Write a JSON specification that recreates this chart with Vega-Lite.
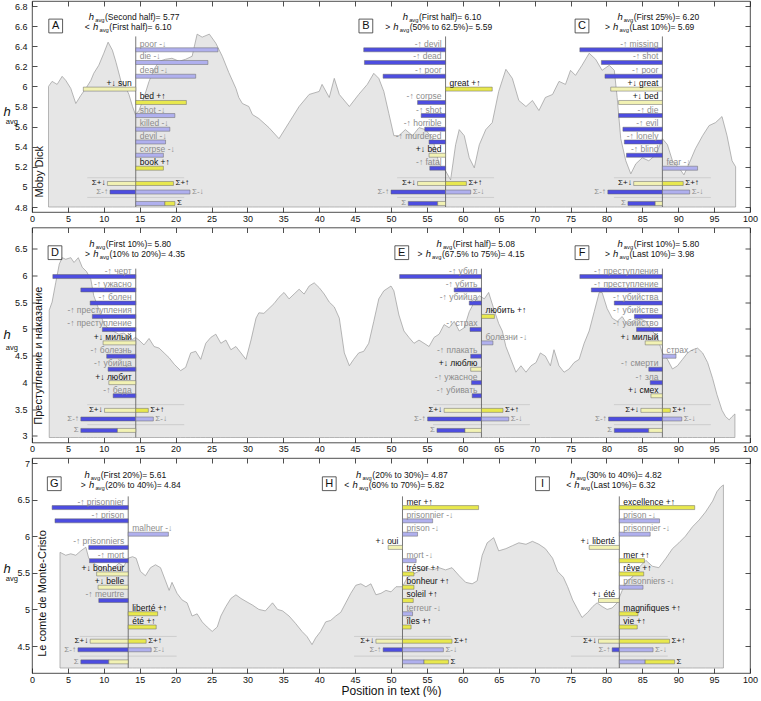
{
"$schema": "https://vega.github.io/schema/vega-lite/v6.json",
"background": "white",
"padding": {"left": 2, "top": 0, "right": 5, "bottom": 0},
"config": {
  "font": "Liberation Sans",
  "view": {"stroke": "#222", "strokeWidth": 0.8},
  "axis": {"domain": false, "grid": false, "labelOverlap": false, "labelSeparation": 0, "tickSize": -5, "tickColor": "#222", "tickWidth": 0.8, "labelFontSize": 9, "labelColor": "#111", "labelFont": "Liberation Sans", "titleFont": "Liberation Sans", "titleFontWeight": "normal", "titleColor": "#111"},
  "axisX": {"labelPadding": 7, "labelFlush": false},
  "axisY": {"labelPadding": 10}
},
"datasets": {
"ser": [
{"b":"MD","x":2.3,"y":6.0},{"b":"MD","x":2.8,"y":6.05},{"b":"MD","x":3.5,"y":6.02},{"b":"MD","x":4.2,"y":6.1},{"b":"MD","x":4.7,"y":6.06},{"b":"MD","x":5.4,"y":5.98},{"b":"MD","x":6.1,"y":5.83},{"b":"MD","x":6.8,"y":5.91},{"b":"MD","x":7.5,"y":5.98},{"b":"MD","x":8.2,"y":6.06},{"b":"MD","x":8.6,"y":6.13},{"b":"MD","x":9.3,"y":6.21},{"b":"MD","x":10.0,"y":6.33},{"b":"MD","x":10.6,"y":6.44},{"b":"MD","x":11.2,"y":6.36},{"b":"MD","x":11.7,"y":6.24},{"b":"MD","x":12.4,"y":6.05},{"b":"MD","x":13.0,"y":6.0},{"b":"MD","x":13.5,"y":5.92},{"b":"MD","x":14.0,"y":5.8},{"b":"MD","x":14.4,"y":5.72},{"b":"MD","x":14.9,"y":5.76},{"b":"MD","x":15.6,"y":5.89},{"b":"MD","x":16.3,"y":6.05},{"b":"MD","x":17.0,"y":6.17},{"b":"MD","x":17.7,"y":6.25},{"b":"MD","x":18.6,"y":6.27},{"b":"MD","x":19.5,"y":6.28},{"b":"MD","x":20.5,"y":6.25},{"b":"MD","x":21.4,"y":6.27},{"b":"MD","x":22.3,"y":6.3},{"b":"MD","x":23.0,"y":6.52},{"b":"MD","x":23.7,"y":6.49},{"b":"MD","x":24.7,"y":6.52},{"b":"MD","x":25.6,"y":6.43},{"b":"MD","x":26.5,"y":6.3},{"b":"MD","x":27.4,"y":6.14},{"b":"MD","x":28.4,"y":5.98},{"b":"MD","x":28.8,"y":5.89},{"b":"MD","x":29.3,"y":5.83},{"b":"MD","x":30.2,"y":5.8},{"b":"MD","x":30.7,"y":5.72},{"b":"MD","x":31.6,"y":5.68},{"b":"MD","x":33.0,"y":5.59},{"b":"MD","x":34.4,"y":5.48},{"b":"MD","x":35.8,"y":5.64},{"b":"MD","x":37.2,"y":5.8},{"b":"MD","x":38.6,"y":5.92},{"b":"MD","x":40.0,"y":5.95},{"b":"MD","x":40.4,"y":6.02},{"b":"MD","x":41.4,"y":5.89},{"b":"MD","x":42.1,"y":6.08},{"b":"MD","x":42.8,"y":5.92},{"b":"MD","x":44.2,"y":5.8},{"b":"MD","x":45.5,"y":5.92},{"b":"MD","x":46.7,"y":6.02},{"b":"MD","x":47.6,"y":6.13},{"b":"MD","x":48.3,"y":6.08},{"b":"MD","x":49.0,"y":5.95},{"b":"MD","x":49.7,"y":5.73},{"b":"MD","x":50.4,"y":5.51},{"b":"MD","x":51.1,"y":5.51},{"b":"MD","x":52.0,"y":5.57},{"b":"MD","x":53.0,"y":5.51},{"b":"MD","x":53.9,"y":5.59},{"b":"MD","x":54.8,"y":5.57},{"b":"MD","x":55.8,"y":5.48},{"b":"MD","x":56.7,"y":5.23},{"b":"MD","x":57.6,"y":5.16},{"b":"MD","x":58.3,"y":5.07},{"b":"MD","x":59.0,"y":5.42},{"b":"MD","x":59.5,"y":5.57},{"b":"MD","x":60.2,"y":5.51},{"b":"MD","x":60.9,"y":5.29},{"b":"MD","x":61.6,"y":5.19},{"b":"MD","x":62.3,"y":5.42},{"b":"MD","x":63.2,"y":5.57},{"b":"MD","x":64.1,"y":5.64},{"b":"MD","x":65.0,"y":5.95},{"b":"MD","x":66.0,"y":6.17},{"b":"MD","x":66.9,"y":6.08},{"b":"MD","x":67.8,"y":5.86},{"b":"MD","x":68.8,"y":5.8},{"b":"MD","x":69.7,"y":5.86},{"b":"MD","x":70.6,"y":5.76},{"b":"MD","x":71.5,"y":5.89},{"b":"MD","x":72.5,"y":5.92},{"b":"MD","x":73.4,"y":6.05},{"b":"MD","x":74.3,"y":6.02},{"b":"MD","x":75.0,"y":6.16},{"b":"MD","x":75.7,"y":6.11},{"b":"MD","x":76.6,"y":6.21},{"b":"MD","x":77.6,"y":6.33},{"b":"MD","x":78.5,"y":6.27},{"b":"MD","x":79.4,"y":6.16},{"b":"MD","x":80.4,"y":6.21},{"b":"MD","x":81.1,"y":6.16},{"b":"MD","x":81.5,"y":5.89},{"b":"MD","x":82.0,"y":5.48},{"b":"MD","x":82.7,"y":5.26},{"b":"MD","x":83.4,"y":5.13},{"b":"MD","x":84.1,"y":5.23},{"b":"MD","x":85.0,"y":5.29},{"b":"MD","x":85.9,"y":5.26},{"b":"MD","x":86.9,"y":5.32},{"b":"MD","x":87.8,"y":5.48},{"b":"MD","x":88.5,"y":5.42},{"b":"MD","x":89.2,"y":5.26},{"b":"MD","x":90.1,"y":5.19},{"b":"MD","x":90.8,"y":5.12},{"b":"MD","x":91.5,"y":5.23},{"b":"MD","x":92.4,"y":5.38},{"b":"MD","x":93.4,"y":5.51},{"b":"MD","x":94.3,"y":5.61},{"b":"MD","x":95.2,"y":5.64},{"b":"MD","x":96.1,"y":5.7},{"b":"MD","x":96.8,"y":5.51},{"b":"MD","x":97.5,"y":5.26},{"b":"MD","x":98.0,"y":5.2},
{"b":"CP","x":2.4,"y":5.35},{"b":"CP","x":2.8,"y":5.5},{"b":"CP","x":3.3,"y":5.86},{"b":"CP","x":3.8,"y":6.21},{"b":"CP","x":4.2,"y":6.33},{"b":"CP","x":4.7,"y":6.3},{"b":"CP","x":5.4,"y":6.33},{"b":"CP","x":5.85,"y":6.24},{"b":"CP","x":6.45,"y":6.33},{"b":"CP","x":7.0,"y":6.15},{"b":"CP","x":7.6,"y":6.07},{"b":"CP","x":8.2,"y":5.92},{"b":"CP","x":8.6,"y":5.62},{"b":"CP","x":9.1,"y":5.44},{"b":"CP","x":9.6,"y":5.25},{"b":"CP","x":10.0,"y":5.1},{"b":"CP","x":10.7,"y":5.0},{"b":"CP","x":11.4,"y":4.95},{"b":"CP","x":12.1,"y":4.9},{"b":"CP","x":12.8,"y":4.92},{"b":"CP","x":13.5,"y":4.85},{"b":"CP","x":14.0,"y":4.8},{"b":"CP","x":14.4,"y":4.84},{"b":"CP","x":14.9,"y":4.79},{"b":"CP","x":15.6,"y":4.7},{"b":"CP","x":16.3,"y":4.82},{"b":"CP","x":17.0,"y":4.67},{"b":"CP","x":17.7,"y":4.64},{"b":"CP","x":18.4,"y":4.55},{"b":"CP","x":19.1,"y":4.46},{"b":"CP","x":19.8,"y":4.34},{"b":"CP","x":20.7,"y":4.22},{"b":"CP","x":21.4,"y":4.28},{"b":"CP","x":22.1,"y":4.55},{"b":"CP","x":22.8,"y":4.58},{"b":"CP","x":23.5,"y":4.43},{"b":"CP","x":24.2,"y":4.73},{"b":"CP","x":24.9,"y":4.84},{"b":"CP","x":25.6,"y":4.9},{"b":"CP","x":26.3,"y":4.73},{"b":"CP","x":27.0,"y":4.79},{"b":"CP","x":27.7,"y":4.61},{"b":"CP","x":28.4,"y":4.67},{"b":"CP","x":29.1,"y":4.55},{"b":"CP","x":29.8,"y":4.43},{"b":"CP","x":30.5,"y":4.79},{"b":"CP","x":31.2,"y":5.2},{"b":"CP","x":31.6,"y":5.3},{"b":"CP","x":32.3,"y":5.29},{"b":"CP","x":33.0,"y":5.38},{"b":"CP","x":33.7,"y":5.47},{"b":"CP","x":34.4,"y":5.59},{"b":"CP","x":35.1,"y":5.68},{"b":"CP","x":35.8,"y":5.56},{"b":"CP","x":36.5,"y":5.65},{"b":"CP","x":37.2,"y":5.74},{"b":"CP","x":37.9,"y":5.65},{"b":"CP","x":38.6,"y":5.8},{"b":"CP","x":39.3,"y":5.86},{"b":"CP","x":40.0,"y":5.77},{"b":"CP","x":40.7,"y":5.65},{"b":"CP","x":41.4,"y":5.5},{"b":"CP","x":42.1,"y":5.41},{"b":"CP","x":42.8,"y":5.2},{"b":"CP","x":43.5,"y":4.55},{"b":"CP","x":44.2,"y":4.31},{"b":"CP","x":44.8,"y":4.43},{"b":"CP","x":45.5,"y":4.55},{"b":"CP","x":46.2,"y":4.58},{"b":"CP","x":46.9,"y":4.73},{"b":"CP","x":47.6,"y":5.14},{"b":"CP","x":48.3,"y":5.56},{"b":"CP","x":49.0,"y":5.71},{"b":"CP","x":50.0,"y":5.8},{"b":"CP","x":50.4,"y":5.71},{"b":"CP","x":51.1,"y":5.26},{"b":"CP","x":51.8,"y":4.96},{"b":"CP","x":52.5,"y":4.84},{"b":"CP","x":53.2,"y":4.73},{"b":"CP","x":53.9,"y":4.79},{"b":"CP","x":54.6,"y":4.73},{"b":"CP","x":55.3,"y":4.67},{"b":"CP","x":56.0,"y":4.84},{"b":"CP","x":56.7,"y":4.9},{"b":"CP","x":57.4,"y":5.08},{"b":"CP","x":58.1,"y":5.02},{"b":"CP","x":58.8,"y":5.14},{"b":"CP","x":59.5,"y":4.96},{"b":"CP","x":60.2,"y":5.02},{"b":"CP","x":60.9,"y":5.32},{"b":"CP","x":61.6,"y":5.5},{"b":"CP","x":62.3,"y":5.62},{"b":"CP","x":63.0,"y":5.56},{"b":"CP","x":63.6,"y":5.68},{"b":"CP","x":64.3,"y":5.38},{"b":"CP","x":65.0,"y":5.1},{"b":"CP","x":65.5,"y":4.96},{"b":"CP","x":66.0,"y":4.67},{"b":"CP","x":66.7,"y":4.43},{"b":"CP","x":67.4,"y":4.19},{"b":"CP","x":68.1,"y":4.31},{"b":"CP","x":68.8,"y":4.19},{"b":"CP","x":69.5,"y":4.31},{"b":"CP","x":70.2,"y":4.37},{"b":"CP","x":70.8,"y":4.55},{"b":"CP","x":71.5,"y":4.49},{"b":"CP","x":72.2,"y":4.31},{"b":"CP","x":72.7,"y":4.61},{"b":"CP","x":73.4,"y":4.31},{"b":"CP","x":74.1,"y":4.19},{"b":"CP","x":74.8,"y":4.25},{"b":"CP","x":75.5,"y":4.37},{"b":"CP","x":76.2,"y":4.43},{"b":"CP","x":76.9,"y":4.73},{"b":"CP","x":77.6,"y":4.96},{"b":"CP","x":78.3,"y":5.32},{"b":"CP","x":79.0,"y":5.68},{"b":"CP","x":79.4,"y":5.68},{"b":"CP","x":80.1,"y":5.38},{"b":"CP","x":80.8,"y":5.2},{"b":"CP","x":81.5,"y":5.14},{"b":"CP","x":82.2,"y":5.23},{"b":"CP","x":82.9,"y":5.08},{"b":"CP","x":83.6,"y":5.14},{"b":"CP","x":84.5,"y":5.2},{"b":"CP","x":85.5,"y":5.14},{"b":"CP","x":86.4,"y":4.96},{"b":"CP","x":87.1,"y":4.84},{"b":"CP","x":87.8,"y":4.55},{"b":"CP","x":88.5,"y":4.43},{"b":"CP","x":89.2,"y":4.25},{"b":"CP","x":89.9,"y":4.31},{"b":"CP","x":90.6,"y":4.43},{"b":"CP","x":91.3,"y":4.55},{"b":"CP","x":92.0,"y":4.61},{"b":"CP","x":92.7,"y":4.64},{"b":"CP","x":93.4,"y":4.55},{"b":"CP","x":94.1,"y":4.37},{"b":"CP","x":94.8,"y":4.07},{"b":"CP","x":95.4,"y":3.77},{"b":"CP","x":96.1,"y":3.48},{"b":"CP","x":96.6,"y":3.36},{"b":"CP","x":97.1,"y":3.3},{"b":"CP","x":97.5,"y":3.36},{"b":"CP","x":97.9,"y":3.41},
{"b":"MC","x":3.9,"y":5.78},{"b":"MC","x":4.7,"y":5.74},{"b":"MC","x":5.4,"y":5.76},{"b":"MC","x":6.1,"y":5.74},{"b":"MC","x":6.8,"y":5.8},{"b":"MC","x":7.5,"y":5.85},{"b":"MC","x":7.9,"y":5.7},{"b":"MC","x":8.6,"y":5.63},{"b":"MC","x":9.3,"y":5.59},{"b":"MC","x":10.0,"y":5.57},{"b":"MC","x":10.7,"y":5.52},{"b":"MC","x":11.4,"y":5.57},{"b":"MC","x":12.1,"y":5.63},{"b":"MC","x":12.8,"y":5.59},{"b":"MC","x":13.4,"y":5.7},{"b":"MC","x":14.0,"y":5.72},{"b":"MC","x":14.5,"y":5.7},{"b":"MC","x":15.1,"y":5.52},{"b":"MC","x":15.8,"y":5.46},{"b":"MC","x":16.5,"y":5.57},{"b":"MC","x":17.2,"y":5.61},{"b":"MC","x":17.9,"y":5.57},{"b":"MC","x":18.6,"y":5.39},{"b":"MC","x":19.1,"y":5.26},{"b":"MC","x":19.5,"y":5.37},{"b":"MC","x":20.2,"y":5.22},{"b":"MC","x":20.9,"y":5.13},{"b":"MC","x":21.6,"y":5.09},{"b":"MC","x":22.3,"y":4.91},{"b":"MC","x":23.0,"y":4.94},{"b":"MC","x":23.7,"y":4.83},{"b":"MC","x":24.4,"y":4.76},{"b":"MC","x":25.1,"y":4.7},{"b":"MC","x":25.8,"y":4.76},{"b":"MC","x":26.3,"y":4.91},{"b":"MC","x":27.0,"y":5.04},{"b":"MC","x":27.7,"y":5.15},{"b":"MC","x":28.4,"y":5.2},{"b":"MC","x":29.1,"y":5.15},{"b":"MC","x":29.8,"y":5.11},{"b":"MC","x":30.7,"y":5.06},{"b":"MC","x":31.6,"y":5.0},{"b":"MC","x":32.5,"y":4.98},{"b":"MC","x":33.5,"y":5.09},{"b":"MC","x":34.2,"y":5.0},{"b":"MC","x":34.9,"y":4.98},{"b":"MC","x":35.8,"y":4.91},{"b":"MC","x":36.7,"y":4.81},{"b":"MC","x":37.6,"y":4.7},{"b":"MC","x":38.3,"y":4.63},{"b":"MC","x":39.0,"y":4.52},{"b":"MC","x":39.5,"y":4.61},{"b":"MC","x":40.2,"y":4.7},{"b":"MC","x":40.9,"y":4.83},{"b":"MC","x":41.6,"y":4.85},{"b":"MC","x":42.3,"y":4.91},{"b":"MC","x":43.0,"y":4.96},{"b":"MC","x":43.7,"y":5.09},{"b":"MC","x":44.4,"y":5.22},{"b":"MC","x":45.1,"y":5.33},{"b":"MC","x":45.8,"y":5.35},{"b":"MC","x":46.5,"y":5.31},{"b":"MC","x":47.2,"y":5.35},{"b":"MC","x":47.9,"y":5.2},{"b":"MC","x":48.6,"y":5.22},{"b":"MC","x":49.3,"y":5.26},{"b":"MC","x":50.0,"y":5.24},{"b":"MC","x":50.7,"y":5.31},{"b":"MC","x":51.6,"y":5.31},{"b":"MC","x":52.3,"y":5.44},{"b":"MC","x":53.0,"y":5.48},{"b":"MC","x":53.9,"y":5.52},{"b":"MC","x":54.8,"y":5.57},{"b":"MC","x":55.8,"y":5.54},{"b":"MC","x":56.7,"y":5.57},{"b":"MC","x":57.6,"y":5.54},{"b":"MC","x":58.5,"y":5.57},{"b":"MC","x":59.5,"y":5.46},{"b":"MC","x":60.4,"y":5.37},{"b":"MC","x":61.3,"y":5.35},{"b":"MC","x":62.0,"y":5.39},{"b":"MC","x":62.7,"y":5.74},{"b":"MC","x":63.4,"y":5.91},{"b":"MC","x":64.3,"y":5.98},{"b":"MC","x":65.0,"y":5.8},{"b":"MC","x":66.0,"y":5.83},{"b":"MC","x":66.9,"y":5.87},{"b":"MC","x":67.8,"y":5.91},{"b":"MC","x":68.8,"y":5.89},{"b":"MC","x":69.7,"y":5.93},{"b":"MC","x":70.6,"y":5.89},{"b":"MC","x":71.5,"y":5.83},{"b":"MC","x":72.5,"y":5.7},{"b":"MC","x":73.2,"y":5.52},{"b":"MC","x":74.0,"y":5.44},{"b":"MC","x":74.6,"y":5.31},{"b":"MC","x":75.3,"y":5.13},{"b":"MC","x":76.0,"y":5.0},{"b":"MC","x":76.6,"y":4.89},{"b":"MC","x":77.4,"y":4.96},{"b":"MC","x":78.1,"y":5.04},{"b":"MC","x":78.7,"y":5.09},{"b":"MC","x":79.4,"y":5.04},{"b":"MC","x":80.1,"y":5.0},{"b":"MC","x":80.8,"y":5.02},{"b":"MC","x":81.5,"y":5.09},{"b":"MC","x":82.2,"y":5.26},{"b":"MC","x":82.9,"y":5.39},{"b":"MC","x":83.6,"y":5.44},{"b":"MC","x":84.5,"y":5.57},{"b":"MC","x":85.5,"y":5.67},{"b":"MC","x":86.4,"y":5.59},{"b":"MC","x":87.3,"y":5.57},{"b":"MC","x":88.3,"y":5.7},{"b":"MC","x":89.2,"y":5.83},{"b":"MC","x":90.1,"y":5.91},{"b":"MC","x":91.0,"y":6.0},{"b":"MC","x":92.0,"y":6.13},{"b":"MC","x":92.9,"y":6.22},{"b":"MC","x":93.8,"y":6.33},{"b":"MC","x":94.8,"y":6.48},{"b":"MC","x":95.4,"y":6.61},{"b":"MC","x":95.9,"y":6.67},{"b":"MC","x":96.3,"y":6.7}
],
"bar": [
{"b":"MD","k":"w","c":"nd","x":14.45,"x2":25.9,"y":6.364,"t":"poor -↓"},
{"b":"MD","k":"w","c":"nd","x":14.45,"x2":24.5,"y":6.238,"t":"die -↓"},
{"b":"MD","k":"w","c":"nd","x":14.45,"x2":22.8,"y":6.101,"t":"dead -↓"},
{"b":"MD","k":"w","c":"pd","x":7.15,"x2":14.45,"y":5.973,"t":"+↓ sun"},
{"b":"MD","k":"w","c":"pu","x":14.45,"x2":21.5,"y":5.84,"t":"bed +↑"},
{"b":"MD","k":"w","c":"nd","x":14.45,"x2":19.9,"y":5.71,"t":"shot -↓"},
{"b":"MD","k":"w","c":"nd","x":14.45,"x2":19.2,"y":5.574,"t":"killed -↓"},
{"b":"MD","k":"w","c":"nd","x":14.45,"x2":18.6,"y":5.447,"t":"devil -↓"},
{"b":"MD","k":"w","c":"nd","x":14.45,"x2":18.3,"y":5.315,"t":"corpse -↓"},
{"b":"MD","k":"w","c":"pu","x":14.45,"x2":18.3,"y":5.186,"t":"book +↑"},
{"b":"MD","k":"s","c":"pd","x":10.5,"x2":14.45,"y":5.034,"t":"Σ+↓"},
{"b":"MD","k":"s","c":"pu","x":14.45,"x2":19.7,"y":5.034,"t":"Σ+↑"},
{"b":"MD","k":"s","c":"nu","x":10.86,"x2":14.45,"y":4.949,"t":"Σ-↑"},
{"b":"MD","k":"s","c":"nd","x":14.45,"x2":22.0,"y":4.949,"t":"Σ-↓"},
{"b":"MD","k":"t","c":"nd","x":14.45,"x2":18.5,"y":4.835,"t":""},
{"b":"MD","k":"t","c":"pu","x":18.5,"x2":19.9,"y":4.835,"t":""},
{"b":"MD","k":"w","c":"nu","x":46.2,"x2":57.6,"y":6.364,"t":"-↑ devil"},
{"b":"MD","k":"w","c":"nu","x":46.3,"x2":57.6,"y":6.238,"t":"-↑ dead"},
{"b":"MD","k":"w","c":"nu","x":48.9,"x2":57.6,"y":6.101,"t":"-↑ poor"},
{"b":"MD","k":"w","c":"pu","x":57.6,"x2":64.1,"y":5.973,"t":"great +↑"},
{"b":"MD","k":"w","c":"nu","x":53.7,"x2":57.6,"y":5.84,"t":"-↑ corpse"},
{"b":"MD","k":"w","c":"nu","x":54.2,"x2":57.6,"y":5.71,"t":"-↑ shot"},
{"b":"MD","k":"w","c":"nu","x":54.7,"x2":57.6,"y":5.574,"t":"-↑ horrible"},
{"b":"MD","k":"w","c":"nu","x":55.3,"x2":57.6,"y":5.447,"t":"-↑ murdered"},
{"b":"MD","k":"w","c":"pd","x":55.3,"x2":57.6,"y":5.315,"t":"+↓ bed"},
{"b":"MD","k":"w","c":"nu","x":55.4,"x2":57.6,"y":5.186,"t":"-↑ fatal"},
{"b":"MD","k":"s","c":"pd","x":53.7,"x2":57.6,"y":5.034,"t":"Σ+↓"},
{"b":"MD","k":"s","c":"pu","x":57.6,"x2":60.5,"y":5.034,"t":"Σ+↑"},
{"b":"MD","k":"s","c":"nu","x":50.0,"x2":57.6,"y":4.949,"t":"Σ-↑"},
{"b":"MD","k":"s","c":"nd","x":57.6,"x2":61.1,"y":4.949,"t":"Σ-↓"},
{"b":"MD","k":"t","c":"nu","x":52.4,"x2":56.5,"y":4.835,"t":""},
{"b":"MD","k":"t","c":"pd","x":56.5,"x2":57.6,"y":4.835,"t":""},
{"b":"MD","k":"w","c":"nu","x":76.3,"x2":87.8,"y":6.364,"t":"-↑ missing"},
{"b":"MD","k":"w","c":"nu","x":79.3,"x2":87.8,"y":6.238,"t":"-↑ shot"},
{"b":"MD","k":"w","c":"nu","x":79.8,"x2":87.8,"y":6.101,"t":"-↑ poor"},
{"b":"MD","k":"w","c":"pd","x":80.6,"x2":87.8,"y":5.973,"t":"+↓ great"},
{"b":"MD","k":"w","c":"pd","x":81.7,"x2":87.8,"y":5.84,"t":"+↓ bed"},
{"b":"MD","k":"w","c":"nu","x":81.7,"x2":87.8,"y":5.71,"t":"-↑ die"},
{"b":"MD","k":"w","c":"nu","x":82.3,"x2":87.8,"y":5.574,"t":"-↑ evil"},
{"b":"MD","k":"w","c":"nu","x":82.5,"x2":87.8,"y":5.447,"t":"-↑ lonely"},
{"b":"MD","k":"w","c":"nu","x":82.8,"x2":87.8,"y":5.315,"t":"-↑ blind"},
{"b":"MD","k":"w","c":"nd","x":87.8,"x2":92.7,"y":5.186,"t":"fear -↓"},
{"b":"MD","k":"s","c":"pd","x":83.8,"x2":87.8,"y":5.034,"t":"Σ+↓"},
{"b":"MD","k":"s","c":"pu","x":87.8,"x2":90.7,"y":5.034,"t":"Σ+↑"},
{"b":"MD","k":"s","c":"nu","x":80.2,"x2":87.8,"y":4.949,"t":"Σ-↑"},
{"b":"MD","k":"s","c":"nd","x":87.8,"x2":91.6,"y":4.949,"t":"Σ-↓"},
{"b":"MD","k":"t","c":"nu","x":83.0,"x2":86.8,"y":4.835,"t":""},
{"b":"MD","k":"t","c":"pd","x":86.8,"x2":87.8,"y":4.835,"t":""},
{"b":"CP","k":"w","c":"nu","x":2.9,"x2":14.45,"y":5.977,"t":"-↑ черт"},
{"b":"CP","k":"w","c":"nu","x":6.8,"x2":14.45,"y":5.727,"t":"-↑ ужасно"},
{"b":"CP","k":"w","c":"nu","x":8.1,"x2":14.45,"y":5.482,"t":"-↑ болен"},
{"b":"CP","k":"w","c":"nu","x":8.4,"x2":14.45,"y":5.232,"t":"-↑ преступления"},
{"b":"CP","k":"w","c":"nu","x":9.8,"x2":14.45,"y":4.988,"t":"-↑ преступление"},
{"b":"CP","k":"w","c":"pd","x":9.9,"x2":14.45,"y":4.738,"t":"+↓ милый"},
{"b":"CP","k":"w","c":"nu","x":10.4,"x2":14.45,"y":4.488,"t":"-↑ болезнь"},
{"b":"CP","k":"w","c":"nu","x":10.6,"x2":14.45,"y":4.245,"t":"-↑ убийца"},
{"b":"CP","k":"w","c":"pd","x":10.7,"x2":14.45,"y":3.995,"t":"+↓ любит"},
{"b":"CP","k":"w","c":"nu","x":11.3,"x2":14.45,"y":3.75,"t":"-↑ беда"},
{"b":"CP","k":"s","c":"pd","x":10.1,"x2":14.45,"y":3.477,"t":"Σ+↓"},
{"b":"CP","k":"s","c":"pu","x":14.45,"x2":16.2,"y":3.477,"t":"Σ+↑"},
{"b":"CP","k":"s","c":"nu","x":6.8,"x2":14.45,"y":3.316,"t":"Σ-↑"},
{"b":"CP","k":"s","c":"nd","x":14.45,"x2":16.9,"y":3.316,"t":"Σ-↓"},
{"b":"CP","k":"t","c":"nu","x":6.8,"x2":11.9,"y":3.102,"t":""},
{"b":"CP","k":"t","c":"pd","x":11.9,"x2":14.45,"y":3.102,"t":""},
{"b":"CP","k":"w","c":"nu","x":51.2,"x2":62.6,"y":5.977,"t":"-↑ убил"},
{"b":"CP","k":"w","c":"nu","x":58.8,"x2":62.6,"y":5.727,"t":"-↑ убить"},
{"b":"CP","k":"w","c":"nu","x":60.9,"x2":62.6,"y":5.482,"t":"-↑ убийца"},
{"b":"CP","k":"w","c":"pu","x":62.6,"x2":64.4,"y":5.232,"t":"любить +↑"},
{"b":"CP","k":"w","c":"nu","x":61.0,"x2":62.6,"y":4.988,"t":"-↑ страх"},
{"b":"CP","k":"w","c":"nd","x":62.6,"x2":64.2,"y":4.738,"t":"болезни -↓"},
{"b":"CP","k":"w","c":"nu","x":61.1,"x2":62.6,"y":4.488,"t":"-↑ плакать"},
{"b":"CP","k":"w","c":"pd","x":61.1,"x2":62.6,"y":4.245,"t":"+↓ люблю"},
{"b":"CP","k":"w","c":"nu","x":61.2,"x2":62.6,"y":3.995,"t":"-↑ ужасное"},
{"b":"CP","k":"w","c":"nu","x":61.3,"x2":62.6,"y":3.75,"t":"-↑ убивать"},
{"b":"CP","k":"s","c":"pd","x":57.4,"x2":62.6,"y":3.477,"t":"Σ+↓"},
{"b":"CP","k":"s","c":"pu","x":62.6,"x2":65.6,"y":3.477,"t":"Σ+↑"},
{"b":"CP","k":"s","c":"nu","x":55.1,"x2":62.6,"y":3.316,"t":"Σ-↑"},
{"b":"CP","k":"s","c":"nd","x":62.6,"x2":66.4,"y":3.316,"t":"Σ-↓"},
{"b":"CP","k":"t","c":"nu","x":56.4,"x2":60.3,"y":3.102,"t":""},
{"b":"CP","k":"t","c":"pd","x":60.3,"x2":62.6,"y":3.102,"t":""},
{"b":"CP","k":"w","c":"nu","x":76.3,"x2":87.8,"y":5.977,"t":"-↑ преступления"},
{"b":"CP","k":"w","c":"nu","x":77.9,"x2":87.8,"y":5.727,"t":"-↑ преступление"},
{"b":"CP","k":"w","c":"nu","x":81.1,"x2":87.8,"y":5.482,"t":"-↑ убийства"},
{"b":"CP","k":"w","c":"nu","x":83.9,"x2":87.8,"y":5.232,"t":"-↑ убийстве"},
{"b":"CP","k":"w","c":"nu","x":84.2,"x2":87.8,"y":4.988,"t":"-↑ убийство"},
{"b":"CP","k":"w","c":"pd","x":85.4,"x2":87.8,"y":4.738,"t":"+↓ милый"},
{"b":"CP","k":"w","c":"nd","x":87.8,"x2":89.7,"y":4.488,"t":"страх -↓"},
{"b":"CP","k":"w","c":"nu","x":85.9,"x2":87.8,"y":4.245,"t":"-↑ смерти"},
{"b":"CP","k":"w","c":"nu","x":86.1,"x2":87.8,"y":3.995,"t":"-↑ зла"},
{"b":"CP","k":"w","c":"pd","x":86.2,"x2":87.8,"y":3.75,"t":"+↓ смех"},
{"b":"CP","k":"s","c":"pd","x":84.8,"x2":87.8,"y":3.477,"t":"Σ+↓"},
{"b":"CP","k":"s","c":"pu","x":87.8,"x2":88.9,"y":3.477,"t":"Σ+↑"},
{"b":"CP","k":"s","c":"nu","x":80.3,"x2":87.8,"y":3.316,"t":"Σ-↑"},
{"b":"CP","k":"s","c":"nd","x":87.8,"x2":90.5,"y":3.316,"t":"Σ-↓"},
{"b":"CP","k":"t","c":"nu","x":81.1,"x2":85.9,"y":3.102,"t":""},
{"b":"CP","k":"t","c":"pd","x":85.9,"x2":87.8,"y":3.102,"t":""},
{"b":"MC","k":"w","c":"nu","x":2.8,"x2":13.4,"y":6.391,"t":"-↑ prisonnier"},
{"b":"MC","k":"w","c":"nu","x":3.2,"x2":13.4,"y":6.21,"t":"-↑ prison"},
{"b":"MC","k":"w","c":"nd","x":13.4,"x2":19.0,"y":6.028,"t":"malheur -↓"},
{"b":"MC","k":"w","c":"nu","x":7.9,"x2":13.4,"y":5.847,"t":"-↑ prisonniers"},
{"b":"MC","k":"w","c":"nu","x":8.0,"x2":13.4,"y":5.666,"t":"-↑ mort"},
{"b":"MC","k":"w","c":"pd","x":9.0,"x2":13.4,"y":5.485,"t":"+↓ bonheur"},
{"b":"MC","k":"w","c":"pd","x":9.2,"x2":13.4,"y":5.303,"t":"+↓ belle"},
{"b":"MC","k":"w","c":"nu","x":9.3,"x2":13.4,"y":5.122,"t":"-↑ meurtre"},
{"b":"MC","k":"w","c":"pu","x":13.4,"x2":17.5,"y":4.941,"t":"liberté +↑"},
{"b":"MC","k":"w","c":"pu","x":13.4,"x2":17.3,"y":4.76,"t":"été +↑"},
{"b":"MC","k":"s","c":"pd","x":8.1,"x2":13.4,"y":4.566,"t":"Σ+↓"},
{"b":"MC","k":"s","c":"pu","x":13.4,"x2":15.9,"y":4.566,"t":"Σ+↑"},
{"b":"MC","k":"s","c":"nu","x":6.4,"x2":13.4,"y":4.449,"t":"Σ-↑"},
{"b":"MC","k":"s","c":"nd","x":13.4,"x2":16.6,"y":4.449,"t":"Σ-↓"},
{"b":"MC","k":"t","c":"nu","x":6.8,"x2":10.7,"y":4.284,"t":""},
{"b":"MC","k":"t","c":"pd","x":10.7,"x2":13.4,"y":4.284,"t":""},
{"b":"MC","k":"w","c":"pu","x":51.6,"x2":62.2,"y":6.391,"t":"mer +↑"},
{"b":"MC","k":"w","c":"nd","x":51.6,"x2":55.8,"y":6.21,"t":"prisonnier -↓"},
{"b":"MC","k":"w","c":"nd","x":51.6,"x2":53.7,"y":6.028,"t":"prison -↓"},
{"b":"MC","k":"w","c":"pd","x":49.6,"x2":51.6,"y":5.847,"t":"+↓ oui"},
{"b":"MC","k":"w","c":"nd","x":51.6,"x2":53.5,"y":5.666,"t":"mort -↓"},
{"b":"MC","k":"w","c":"pu","x":51.6,"x2":53.2,"y":5.485,"t":"trésor +↑"},
{"b":"MC","k":"w","c":"pu","x":51.6,"x2":53.2,"y":5.303,"t":"bonheur +↑"},
{"b":"MC","k":"w","c":"pu","x":51.6,"x2":53.1,"y":5.122,"t":"soleil +↑"},
{"b":"MC","k":"w","c":"nd","x":51.6,"x2":53.0,"y":4.941,"t":"terreur -↓"},
{"b":"MC","k":"w","c":"pu","x":51.6,"x2":52.8,"y":4.76,"t":"îles +↑"},
{"b":"MC","k":"s","c":"pd","x":47.9,"x2":51.6,"y":4.566,"t":"Σ+↓"},
{"b":"MC","k":"s","c":"pu","x":51.6,"x2":58.5,"y":4.566,"t":"Σ+↑"},
{"b":"MC","k":"s","c":"nu","x":48.9,"x2":51.6,"y":4.449,"t":"Σ-↑"},
{"b":"MC","k":"s","c":"nd","x":51.6,"x2":57.3,"y":4.449,"t":"Σ-↓"},
{"b":"MC","k":"t","c":"nd","x":51.6,"x2":54.6,"y":4.284,"t":""},
{"b":"MC","k":"t","c":"pu","x":54.6,"x2":58.0,"y":4.284,"t":""},
{"b":"MC","k":"w","c":"pu","x":81.8,"x2":92.3,"y":6.391,"t":"excellence +↑"},
{"b":"MC","k":"w","c":"nd","x":81.8,"x2":87.4,"y":6.21,"t":"prison -↓"},
{"b":"MC","k":"w","c":"nd","x":81.8,"x2":86.1,"y":6.028,"t":"prisonnier -↓"},
{"b":"MC","k":"w","c":"pd","x":77.6,"x2":81.8,"y":5.847,"t":"+↓ liberté"},
{"b":"MC","k":"w","c":"pu","x":81.8,"x2":85.3,"y":5.666,"t":"mer +↑"},
{"b":"MC","k":"w","c":"pu","x":81.8,"x2":85.2,"y":5.485,"t":"rêve +↑"},
{"b":"MC","k":"w","c":"nd","x":81.8,"x2":85.1,"y":5.303,"t":"prisonniers -↓"},
{"b":"MC","k":"w","c":"pd","x":78.9,"x2":81.8,"y":5.122,"t":"+↓ été"},
{"b":"MC","k":"w","c":"pu","x":81.8,"x2":84.4,"y":4.941,"t":"magnifiques +↑"},
{"b":"MC","k":"w","c":"pu","x":81.8,"x2":84.3,"y":4.76,"t":"vie +↑"},
{"b":"MC","k":"s","c":"pd","x":78.9,"x2":81.8,"y":4.566,"t":"Σ+↓"},
{"b":"MC","k":"s","c":"pu","x":81.8,"x2":88.8,"y":4.566,"t":"Σ+↑"},
{"b":"MC","k":"s","c":"nu","x":80.8,"x2":81.8,"y":4.449,"t":"Σ-↑"},
{"b":"MC","k":"s","c":"nd","x":81.8,"x2":86.5,"y":4.449,"t":"Σ-↓"},
{"b":"MC","k":"t","c":"nd","x":81.8,"x2":85.4,"y":4.284,"t":""},
{"b":"MC","k":"t","c":"pu","x":85.4,"x2":89.5,"y":4.284,"t":""}
],
"sig": [
{"b":"MD","x":19.9,"y":4.835,"s":"R"},{"b":"MD","x":52.4,"y":4.835,"s":"L"},{"b":"MD","x":83.0,"y":4.835,"s":"L"},
{"b":"CP","x":6.8,"y":3.102,"s":"L"},{"b":"CP","x":56.4,"y":3.102,"s":"L"},{"b":"CP","x":81.1,"y":3.102,"s":"L"},
{"b":"MC","x":6.8,"y":4.284,"s":"L"},{"b":"MC","x":58.0,"y":4.284,"s":"R"},{"b":"MC","x":89.5,"y":4.284,"s":"R"}
],
"div": [
{"b":"MD","x":14.45,"y":6.497,"y2":4.8},{"b":"MD","x":57.6,"y":6.497,"y2":4.8},{"b":"MD","x":87.8,"y":6.497,"y2":4.8},
{"b":"CP","x":14.45,"y":6.125,"y2":2.97},{"b":"CP","x":62.6,"y":6.125,"y2":2.97},{"b":"CP","x":87.8,"y":6.125,"y2":2.97},
{"b":"MC","x":13.4,"y":6.544,"y2":4.2},{"b":"MC","x":51.6,"y":6.544,"y2":4.2},{"b":"MC","x":81.8,"y":6.544,"y2":4.2}
],
"sep": [
{"b":"MD","x":7.7,"x2":21.2,"y":5.091},{"b":"MD","x":7.7,"x2":21.2,"y":4.895},
{"b":"MD","x":50.85,"x2":64.35,"y":5.091},{"b":"MD","x":50.85,"x2":64.35,"y":4.895},
{"b":"MD","x":81.05,"x2":94.55,"y":5.091},{"b":"MD","x":81.05,"x2":94.55,"y":4.895},
{"b":"CP","x":7.7,"x2":21.2,"y":3.584},{"b":"CP","x":7.7,"x2":21.2,"y":3.21},
{"b":"CP","x":55.85,"x2":69.35,"y":3.584},{"b":"CP","x":55.85,"x2":69.35,"y":3.21},
{"b":"CP","x":81.05,"x2":94.55,"y":3.584},{"b":"CP","x":81.05,"x2":94.55,"y":3.21},
{"b":"MC","x":6.65,"x2":20.15,"y":4.631},{"b":"MC","x":6.65,"x2":20.15,"y":4.362},
{"b":"MC","x":44.85,"x2":58.35,"y":4.631},{"b":"MC","x":44.85,"x2":58.35,"y":4.362},
{"b":"MC","x":75.05,"x2":88.55,"y":4.631},{"b":"MC","x":75.05,"x2":88.55,"y":4.362}
],
"ann": [
{"b":"MD","x":10.17,"y":6.686,"p":"","t":"(Second half)= 5.77"},{"b":"MD","x":10.77,"y":6.591,"p":"<","t":"(First half)= 6.10"},
{"b":"MD","x":53.9,"y":6.686,"p":"","t":"(First half)= 6.10"},{"b":"MD","x":52.6,"y":6.591,"p":">","t":"(50% to 62.5%)= 5.59"},
{"b":"MD","x":83.8,"y":6.686,"p":"","t":"(First 25%)= 6.20"},{"b":"MD","x":83.2,"y":6.591,"p":">","t":"(Last 10%)= 5.69"},
{"b":"CP","x":10.26,"y":6.581,"p":"","t":"(First 10%)= 5.80"},{"b":"CP","x":10.8,"y":6.402,"p":">","t":"(10% to 20%)= 4.35"},
{"b":"CP","x":58.6,"y":6.581,"p":"","t":"(First half)= 5.08"},{"b":"CP","x":57.1,"y":6.402,"p":">","t":"(67.5% to 75%)= 4.15"},
{"b":"CP","x":83.8,"y":6.581,"p":"","t":"(First 10%)= 5.80"},{"b":"CP","x":83.2,"y":6.402,"p":">","t":"(Last 10%)= 3.98"},
{"b":"MC","x":9.57,"y":6.834,"p":"","t":"(First 20%)= 5.61"},{"b":"MC","x":10.2,"y":6.696,"p":">","t":"(20% to 40%)= 4.84"},
{"b":"MC","x":47.4,"y":6.834,"p":"","t":"(20% to 30%)= 4.87"},{"b":"MC","x":46.9,"y":6.696,"p":"<","t":"(60% to 70%)= 5.82"},
{"b":"MC","x":77.2,"y":6.834,"p":"","t":"(30% to 40%)= 4.82"},{"b":"MC","x":77.8,"y":6.696,"p":"<","t":"(Last 10%)= 6.32"}
],
"box": [
{"b":"MD","x":3.3,"y":6.601,"t":"A"},{"b":"MD","x":46.5,"y":6.601,"t":"B"},{"b":"MD","x":76.6,"y":6.601,"t":"C"},
{"b":"CP","x":3.2,"y":6.423,"t":"D"},{"b":"CP","x":51.5,"y":6.423,"t":"E"},{"b":"CP","x":76.6,"y":6.423,"t":"F"},
{"b":"MC","x":3.1,"y":6.717,"t":"G"},{"b":"MC","x":41.4,"y":6.717,"t":"H"},{"b":"MC","x":71.1,"y":6.717,"t":"I"}
],
"ttl": [
{"b":"MD","x":1.07,"y":4.895,"t":"Moby Dick"},
{"b":"CP","x":1.0,"y":3.21,"t":"Преступление и наказание"},
{"b":"MC","x":1.53,"y":4.353,"t":"Le comte de Monte-Cristo"}
],
"avg": [
{"b":"MD","x":-3.65,"y":5.63,"t":"avg"},
{"b":"CP","x":-3.65,"y":4.6,"t":"avg"},
{"b":"MC","x":-3.65,"y":5.39,"t":"avg"}
]
},
"spacing": 2.5,
"vconcat": [
{
 "width": 718, "height": 211,
 "resolve": {"axis": {"x": "independent", "y": "independent"}},
 "layer": [
  {"layer": [
   {"data": {"name": "ser"}, "transform": [{"filter": "datum.b=='MD'"}],
    "mark": {"type": "area", "fill": "#e6e6e6", "stroke": "#999", "strokeWidth": 0.7},
    "encoding": {
     "x": {"field": "x", "type": "quantitative", "scale": {"domain": [0, 100], "nice": false}, "axis": {"values": [0,5,10,15,20,25,30,35,40,45,50,55,60,65,70,75,80,85,90,95,100], "tickCount": 21, "labelOverlap": false, "title": null}},
     "y": {"field": "y", "type": "quantitative", "scale": {"domain": [4.8, 6.8], "nice": false, "zero": false}, "axis": {"values": [4.8,5,5.2,5.4,5.6,5.8,6,6.2,6.4,6.6,6.8], "tickCount": 11, "labelOverlap": false, "format": "~g", "title": "h", "titleFontStyle": "italic", "titleFontSize": 13, "titleAngle": 0, "titleX": -29, "titleY": 114, "titleAlign": "left", "titleBaseline": "alphabetic"}},
     "y2": {"datum": 4.8}
    }},
   {"data": {"name": "sep"}, "transform": [{"filter": "datum.b=='MD'"}], "mark": {"type": "rule", "stroke": "#c8c8c8", "strokeWidth": 0.8},
    "encoding": {"x": {"field": "x", "type": "quantitative"}, "x2": {"field": "x2"}, "y": {"field": "y", "type": "quantitative"}}},
   {"data": {"name": "div"}, "transform": [{"filter": "datum.b=='MD'"}], "mark": {"type": "rule", "stroke": "#555", "strokeWidth": 0.8},
    "encoding": {"x": {"field": "x", "type": "quantitative"}, "y": {"field": "y", "type": "quantitative"}, "y2": {"field": "y2"}}},
   {"data": {"name": "bar"}, "transform": [{"filter": "datum.b=='MD'"}], "mark": {"type": "bar", "stroke": "#666", "strokeWidth": 0.5},
    "encoding": {"x": {"field": "x", "type": "quantitative"}, "x2": {"field": "x2"}, "y": {"field": "y", "type": "quantitative"}, "size": {"value": 4},
     "color": {"field": "c", "type": "nominal", "scale": {"domain": ["nu","nd","pd","pu"], "range": ["#4d4de0","#b0b0ee","#f2f2b4","#e8e84e"]}, "legend": null}}},
   {"data": {"name": "bar"}, "transform": [{"filter": "datum.b=='MD' && datum.k=='w' && (datum.c=='nd' || datum.c=='pu')"}], "mark": {"type": "text", "align": "left", "baseline": "alphabetic", "dx": 4, "dy": -3, "fontSize": 8.5},
    "encoding": {"x": {"field": "x", "type": "quantitative"}, "y": {"field": "y", "type": "quantitative"}, "text": {"field": "t"}, "color": {"condition": {"test": "datum.c=='nu' || datum.c=='nd'", "value": "#8c8c8c"}, "value": "#111"}}},
   {"data": {"name": "bar"}, "transform": [{"filter": "datum.b=='MD' && datum.k=='w' && (datum.c=='nu' || datum.c=='pd')"}], "mark": {"type": "text", "align": "right", "baseline": "alphabetic", "dx": -4, "dy": -3, "fontSize": 8.5},
    "encoding": {"x": {"field": "x2", "type": "quantitative"}, "y": {"field": "y", "type": "quantitative"}, "text": {"field": "t"}, "color": {"condition": {"test": "datum.c=='nu' || datum.c=='nd'", "value": "#8c8c8c"}, "value": "#111"}}},
   {"data": {"name": "bar"}, "transform": [{"filter": "datum.b=='MD' && datum.k=='s' && (datum.c=='nd' || datum.c=='pu')"}], "mark": {"type": "text", "align": "left", "baseline": "middle", "dx": 2, "fontSize": 8},
    "encoding": {"x": {"field": "x2", "type": "quantitative"}, "y": {"field": "y", "type": "quantitative"}, "text": {"field": "t"}, "color": {"condition": {"test": "datum.c=='nu' || datum.c=='nd'", "value": "#8c8c8c"}, "value": "#111"}}},
   {"data": {"name": "bar"}, "transform": [{"filter": "datum.b=='MD' && datum.k=='s' && (datum.c=='nu' || datum.c=='pd')"}], "mark": {"type": "text", "align": "right", "baseline": "middle", "dx": -2, "fontSize": 8},
    "encoding": {"x": {"field": "x", "type": "quantitative"}, "y": {"field": "y", "type": "quantitative"}, "text": {"field": "t"}, "color": {"condition": {"test": "datum.c=='nu' || datum.c=='nd'", "value": "#8c8c8c"}, "value": "#111"}}},
   {"data": {"name": "sig"}, "transform": [{"filter": "datum.b=='MD' && datum.s=='R'"}], "mark": {"type": "text", "align": "left", "baseline": "middle", "dx": 2, "fontSize": 8, "text": "Σ", "color": "#111"},
    "encoding": {"x": {"field": "x", "type": "quantitative"}, "y": {"field": "y", "type": "quantitative"}}},
   {"data": {"name": "sig"}, "transform": [{"filter": "datum.b=='MD' && datum.s=='L'"}], "mark": {"type": "text", "align": "right", "baseline": "middle", "dx": -2, "fontSize": 8, "text": "Σ", "color": "#8c8c8c"},
    "encoding": {"x": {"field": "x", "type": "quantitative"}, "y": {"field": "y", "type": "quantitative"}}},
   {"data": {"name": "ann"}, "transform": [{"filter": "datum.b=='MD'"}], "mark": {"type": "text", "align": "left", "baseline": "middle", "fontSize": 8.5, "color": "#111"},
    "encoding": {"x": {"field": "x", "type": "quantitative"}, "y": {"field": "y", "type": "quantitative"}, "text": {"field": "t"}}},
   {"data": {"name": "ann"}, "transform": [{"filter": "datum.b=='MD'"}], "mark": {"type": "text", "align": "right", "baseline": "middle", "dx": -11, "fontSize": 9.5, "fontStyle": "italic", "text": "h", "color": "#111"},
    "encoding": {"x": {"field": "x", "type": "quantitative"}, "y": {"field": "y", "type": "quantitative"}}},
   {"data": {"name": "ann"}, "transform": [{"filter": "datum.b=='MD'"}], "mark": {"type": "text", "align": "right", "baseline": "middle", "dx": -0.5, "dy": 3, "fontSize": 5.8, "text": "avg", "color": "#111"},
    "encoding": {"x": {"field": "x", "type": "quantitative"}, "y": {"field": "y", "type": "quantitative"}}},
   {"data": {"name": "ann"}, "transform": [{"filter": "datum.b=='MD'"}], "mark": {"type": "text", "align": "right", "baseline": "middle", "dx": -19.5, "fontSize": 8.5, "color": "#111"},
    "encoding": {"x": {"field": "x", "type": "quantitative"}, "y": {"field": "y", "type": "quantitative"}, "text": {"field": "p"}}},
   {"data": {"name": "box"}, "transform": [{"filter": "datum.b=='MD'"}], "mark": {"type": "point", "shape": "square", "size": 190, "filled": false, "stroke": "#333", "strokeWidth": 0.8, "opacity": 1},
    "encoding": {"x": {"field": "x", "type": "quantitative"}, "y": {"field": "y", "type": "quantitative"}}},
   {"data": {"name": "box"}, "transform": [{"filter": "datum.b=='MD'"}], "mark": {"type": "text", "align": "center", "baseline": "middle", "fontSize": 11, "color": "#111"},
    "encoding": {"x": {"field": "x", "type": "quantitative"}, "y": {"field": "y", "type": "quantitative"}, "text": {"field": "t"}}},
   {"data": {"name": "ttl"}, "transform": [{"filter": "datum.b=='MD'"}], "mark": {"type": "text", "align": "left", "baseline": "middle", "angle": 270, "fontSize": 11, "color": "#111"},
    "encoding": {"x": {"field": "x", "type": "quantitative"}, "y": {"field": "y", "type": "quantitative"}, "text": {"field": "t"}}},
   {"data": {"name": "avg"}, "transform": [{"filter": "datum.b=='MD'"}], "mark": {"type": "text", "align": "left", "baseline": "alphabetic", "fontSize": 7.5, "color": "#111"},
    "encoding": {"x": {"field": "x", "type": "quantitative"}, "y": {"field": "y", "type": "quantitative"}, "text": {"field": "t"}}}
  ]},
  {"data": {"name": "div"}, "transform": [{"filter": "datum.b=='MD'"}], "mark": {"type": "point", "opacity": 0},
   "encoding": {
    "x": {"field": "x", "type": "quantitative", "axis": {"orient": "top", "labels": false, "title": null, "tickCount": 21, "values": [0,5,10,15,20,25,30,35,40,45,50,55,60,65,70,75,80,85,90,95,100]}},
    "y": {"field": "y", "type": "quantitative", "axis": {"orient": "right", "labels": false, "title": null, "tickCount": 11, "values": [4.8,5,5.2,5.4,5.6,5.8,6,6.2,6.4,6.6,6.8]}}
   }}
 ]
},
{
 "width": 718, "height": 215,
 "resolve": {"axis": {"x": "independent", "y": "independent"}},
 "layer": [
  {"layer": [
   {"data": {"name": "ser"}, "transform": [{"filter": "datum.b=='CP'"}],
    "mark": {"type": "area", "fill": "#e6e6e6", "stroke": "#999", "strokeWidth": 0.7},
    "encoding": {
     "x": {"field": "x", "type": "quantitative", "scale": {"domain": [0, 100], "nice": false}, "axis": {"values": [0,5,10,15,20,25,30,35,40,45,50,55,60,65,70,75,80,85,90,95,100], "tickCount": 21, "labelOverlap": false, "title": null}},
     "y": {"field": "y", "type": "quantitative", "scale": {"domain": [2.97, 6.8], "nice": false, "zero": false}, "axis": {"values": [3,3.5,4,4.5,5,5.5,6,6.5], "tickCount": 8, "labelOverlap": false, "format": "~g", "title": "h", "titleFontStyle": "italic", "titleFontSize": 13, "titleAngle": 0, "titleX": -29, "titleY": 111, "titleAlign": "left", "titleBaseline": "alphabetic"}},
     "y2": {"datum": 2.97}
    }},
   {"data": {"name": "sep"}, "transform": [{"filter": "datum.b=='CP'"}], "mark": {"type": "rule", "stroke": "#c8c8c8", "strokeWidth": 0.8},
    "encoding": {"x": {"field": "x", "type": "quantitative"}, "x2": {"field": "x2"}, "y": {"field": "y", "type": "quantitative"}}},
   {"data": {"name": "div"}, "transform": [{"filter": "datum.b=='CP'"}], "mark": {"type": "rule", "stroke": "#555", "strokeWidth": 0.8},
    "encoding": {"x": {"field": "x", "type": "quantitative"}, "y": {"field": "y", "type": "quantitative"}, "y2": {"field": "y2"}}},
   {"data": {"name": "bar"}, "transform": [{"filter": "datum.b=='CP'"}], "mark": {"type": "bar", "stroke": "#666", "strokeWidth": 0.5},
    "encoding": {"x": {"field": "x", "type": "quantitative"}, "x2": {"field": "x2"}, "y": {"field": "y", "type": "quantitative"}, "size": {"value": 4},
     "color": {"field": "c", "type": "nominal", "scale": {"domain": ["nu","nd","pd","pu"], "range": ["#4d4de0","#b0b0ee","#f2f2b4","#e8e84e"]}, "legend": null}}},
   {"data": {"name": "bar"}, "transform": [{"filter": "datum.b=='CP' && datum.k=='w' && (datum.c=='nd' || datum.c=='pu')"}], "mark": {"type": "text", "align": "left", "baseline": "alphabetic", "dx": 4, "dy": -3, "fontSize": 8.5},
    "encoding": {"x": {"field": "x", "type": "quantitative"}, "y": {"field": "y", "type": "quantitative"}, "text": {"field": "t"}, "color": {"condition": {"test": "datum.c=='nu' || datum.c=='nd'", "value": "#8c8c8c"}, "value": "#111"}}},
   {"data": {"name": "bar"}, "transform": [{"filter": "datum.b=='CP' && datum.k=='w' && (datum.c=='nu' || datum.c=='pd')"}], "mark": {"type": "text", "align": "right", "baseline": "alphabetic", "dx": -4, "dy": -3, "fontSize": 8.5},
    "encoding": {"x": {"field": "x2", "type": "quantitative"}, "y": {"field": "y", "type": "quantitative"}, "text": {"field": "t"}, "color": {"condition": {"test": "datum.c=='nu' || datum.c=='nd'", "value": "#8c8c8c"}, "value": "#111"}}},
   {"data": {"name": "bar"}, "transform": [{"filter": "datum.b=='CP' && datum.k=='s' && (datum.c=='nd' || datum.c=='pu')"}], "mark": {"type": "text", "align": "left", "baseline": "middle", "dx": 2, "fontSize": 8},
    "encoding": {"x": {"field": "x2", "type": "quantitative"}, "y": {"field": "y", "type": "quantitative"}, "text": {"field": "t"}, "color": {"condition": {"test": "datum.c=='nu' || datum.c=='nd'", "value": "#8c8c8c"}, "value": "#111"}}},
   {"data": {"name": "bar"}, "transform": [{"filter": "datum.b=='CP' && datum.k=='s' && (datum.c=='nu' || datum.c=='pd')"}], "mark": {"type": "text", "align": "right", "baseline": "middle", "dx": -2, "fontSize": 8},
    "encoding": {"x": {"field": "x", "type": "quantitative"}, "y": {"field": "y", "type": "quantitative"}, "text": {"field": "t"}, "color": {"condition": {"test": "datum.c=='nu' || datum.c=='nd'", "value": "#8c8c8c"}, "value": "#111"}}},
   {"data": {"name": "sig"}, "transform": [{"filter": "datum.b=='CP' && datum.s=='R'"}], "mark": {"type": "text", "align": "left", "baseline": "middle", "dx": 2, "fontSize": 8, "text": "Σ", "color": "#111"},
    "encoding": {"x": {"field": "x", "type": "quantitative"}, "y": {"field": "y", "type": "quantitative"}}},
   {"data": {"name": "sig"}, "transform": [{"filter": "datum.b=='CP' && datum.s=='L'"}], "mark": {"type": "text", "align": "right", "baseline": "middle", "dx": -2, "fontSize": 8, "text": "Σ", "color": "#8c8c8c"},
    "encoding": {"x": {"field": "x", "type": "quantitative"}, "y": {"field": "y", "type": "quantitative"}}},
   {"data": {"name": "ann"}, "transform": [{"filter": "datum.b=='CP'"}], "mark": {"type": "text", "align": "left", "baseline": "middle", "fontSize": 8.5, "color": "#111"},
    "encoding": {"x": {"field": "x", "type": "quantitative"}, "y": {"field": "y", "type": "quantitative"}, "text": {"field": "t"}}},
   {"data": {"name": "ann"}, "transform": [{"filter": "datum.b=='CP'"}], "mark": {"type": "text", "align": "right", "baseline": "middle", "dx": -11, "fontSize": 9.5, "fontStyle": "italic", "text": "h", "color": "#111"},
    "encoding": {"x": {"field": "x", "type": "quantitative"}, "y": {"field": "y", "type": "quantitative"}}},
   {"data": {"name": "ann"}, "transform": [{"filter": "datum.b=='CP'"}], "mark": {"type": "text", "align": "right", "baseline": "middle", "dx": -0.5, "dy": 3, "fontSize": 5.8, "text": "avg", "color": "#111"},
    "encoding": {"x": {"field": "x", "type": "quantitative"}, "y": {"field": "y", "type": "quantitative"}}},
   {"data": {"name": "ann"}, "transform": [{"filter": "datum.b=='CP'"}], "mark": {"type": "text", "align": "right", "baseline": "middle", "dx": -19.5, "fontSize": 8.5, "color": "#111"},
    "encoding": {"x": {"field": "x", "type": "quantitative"}, "y": {"field": "y", "type": "quantitative"}, "text": {"field": "p"}}},
   {"data": {"name": "box"}, "transform": [{"filter": "datum.b=='CP'"}], "mark": {"type": "point", "shape": "square", "size": 190, "filled": false, "stroke": "#333", "strokeWidth": 0.8, "opacity": 1},
    "encoding": {"x": {"field": "x", "type": "quantitative"}, "y": {"field": "y", "type": "quantitative"}}},
   {"data": {"name": "box"}, "transform": [{"filter": "datum.b=='CP'"}], "mark": {"type": "text", "align": "center", "baseline": "middle", "fontSize": 11, "color": "#111"},
    "encoding": {"x": {"field": "x", "type": "quantitative"}, "y": {"field": "y", "type": "quantitative"}, "text": {"field": "t"}}},
   {"data": {"name": "ttl"}, "transform": [{"filter": "datum.b=='CP'"}], "mark": {"type": "text", "align": "left", "baseline": "middle", "angle": 270, "fontSize": 11, "color": "#111"},
    "encoding": {"x": {"field": "x", "type": "quantitative"}, "y": {"field": "y", "type": "quantitative"}, "text": {"field": "t"}}},
   {"data": {"name": "avg"}, "transform": [{"filter": "datum.b=='CP'"}], "mark": {"type": "text", "align": "left", "baseline": "alphabetic", "fontSize": 7.5, "color": "#111"},
    "encoding": {"x": {"field": "x", "type": "quantitative"}, "y": {"field": "y", "type": "quantitative"}, "text": {"field": "t"}}}
  ]},
  {"data": {"name": "div"}, "transform": [{"filter": "datum.b=='CP'"}], "mark": {"type": "point", "opacity": 0},
   "encoding": {
    "x": {"field": "x", "type": "quantitative", "axis": {"orient": "top", "labels": false, "title": null, "tickCount": 21, "values": [0,5,10,15,20,25,30,35,40,45,50,55,60,65,70,75,80,85,90,95,100]}},
    "y": {"field": "y", "type": "quantitative", "axis": {"orient": "right", "labels": false, "title": null, "tickCount": 8, "values": [3,3.5,4,4.5,5,5.5,6,6.5]}}
   }}
 ]
},
{
 "width": 718, "height": 215,
 "resolve": {"axis": {"x": "independent", "y": "independent"}},
 "layer": [
  {"layer": [
   {"data": {"name": "ser"}, "transform": [{"filter": "datum.b=='MC'"}],
    "mark": {"type": "area", "fill": "#e6e6e6", "stroke": "#999", "strokeWidth": 0.7},
    "encoding": {
     "x": {"field": "x", "type": "quantitative", "scale": {"domain": [0, 100], "nice": false}, "axis": {"values": [0,5,10,15,20,25,30,35,40,45,50,55,60,65,70,75,80,85,90,95,100], "tickCount": 21, "labelOverlap": false, "title": "Position in text (%)", "titleFontSize": 12, "titlePadding": 1.5}},
     "y": {"field": "y", "type": "quantitative", "scale": {"domain": [4.2, 7], "nice": false, "zero": false}, "axis": {"values": [4.5,5,5.5,6,6.5,7], "tickCount": 6, "labelOverlap": false, "format": "~g", "title": "h", "titleFontStyle": "italic", "titleFontSize": 13, "titleAngle": 0, "titleX": -29, "titleY": 114, "titleAlign": "left", "titleBaseline": "alphabetic", "labelPadding": 7.5, "labelFlush": true}},
     "y2": {"datum": 4.2}
    }},
   {"data": {"name": "sep"}, "transform": [{"filter": "datum.b=='MC'"}], "mark": {"type": "rule", "stroke": "#c8c8c8", "strokeWidth": 0.8},
    "encoding": {"x": {"field": "x", "type": "quantitative"}, "x2": {"field": "x2"}, "y": {"field": "y", "type": "quantitative"}}},
   {"data": {"name": "div"}, "transform": [{"filter": "datum.b=='MC'"}], "mark": {"type": "rule", "stroke": "#555", "strokeWidth": 0.8},
    "encoding": {"x": {"field": "x", "type": "quantitative"}, "y": {"field": "y", "type": "quantitative"}, "y2": {"field": "y2"}}},
   {"data": {"name": "bar"}, "transform": [{"filter": "datum.b=='MC'"}], "mark": {"type": "bar", "stroke": "#666", "strokeWidth": 0.5},
    "encoding": {"x": {"field": "x", "type": "quantitative"}, "x2": {"field": "x2"}, "y": {"field": "y", "type": "quantitative"}, "size": {"value": 4},
     "color": {"field": "c", "type": "nominal", "scale": {"domain": ["nu","nd","pd","pu"], "range": ["#4d4de0","#b0b0ee","#f2f2b4","#e8e84e"]}, "legend": null}}},
   {"data": {"name": "bar"}, "transform": [{"filter": "datum.b=='MC' && datum.k=='w' && (datum.c=='nd' || datum.c=='pu')"}], "mark": {"type": "text", "align": "left", "baseline": "alphabetic", "dx": 4, "dy": -3, "fontSize": 8.5},
    "encoding": {"x": {"field": "x", "type": "quantitative"}, "y": {"field": "y", "type": "quantitative"}, "text": {"field": "t"}, "color": {"condition": {"test": "datum.c=='nu' || datum.c=='nd'", "value": "#8c8c8c"}, "value": "#111"}}},
   {"data": {"name": "bar"}, "transform": [{"filter": "datum.b=='MC' && datum.k=='w' && (datum.c=='nu' || datum.c=='pd')"}], "mark": {"type": "text", "align": "right", "baseline": "alphabetic", "dx": -4, "dy": -3, "fontSize": 8.5},
    "encoding": {"x": {"field": "x2", "type": "quantitative"}, "y": {"field": "y", "type": "quantitative"}, "text": {"field": "t"}, "color": {"condition": {"test": "datum.c=='nu' || datum.c=='nd'", "value": "#8c8c8c"}, "value": "#111"}}},
   {"data": {"name": "bar"}, "transform": [{"filter": "datum.b=='MC' && datum.k=='s' && (datum.c=='nd' || datum.c=='pu')"}], "mark": {"type": "text", "align": "left", "baseline": "middle", "dx": 2, "fontSize": 8},
    "encoding": {"x": {"field": "x2", "type": "quantitative"}, "y": {"field": "y", "type": "quantitative"}, "text": {"field": "t"}, "color": {"condition": {"test": "datum.c=='nu' || datum.c=='nd'", "value": "#8c8c8c"}, "value": "#111"}}},
   {"data": {"name": "bar"}, "transform": [{"filter": "datum.b=='MC' && datum.k=='s' && (datum.c=='nu' || datum.c=='pd')"}], "mark": {"type": "text", "align": "right", "baseline": "middle", "dx": -2, "fontSize": 8},
    "encoding": {"x": {"field": "x", "type": "quantitative"}, "y": {"field": "y", "type": "quantitative"}, "text": {"field": "t"}, "color": {"condition": {"test": "datum.c=='nu' || datum.c=='nd'", "value": "#8c8c8c"}, "value": "#111"}}},
   {"data": {"name": "sig"}, "transform": [{"filter": "datum.b=='MC' && datum.s=='R'"}], "mark": {"type": "text", "align": "left", "baseline": "middle", "dx": 2, "fontSize": 8, "text": "Σ", "color": "#111"},
    "encoding": {"x": {"field": "x", "type": "quantitative"}, "y": {"field": "y", "type": "quantitative"}}},
   {"data": {"name": "sig"}, "transform": [{"filter": "datum.b=='MC' && datum.s=='L'"}], "mark": {"type": "text", "align": "right", "baseline": "middle", "dx": -2, "fontSize": 8, "text": "Σ", "color": "#8c8c8c"},
    "encoding": {"x": {"field": "x", "type": "quantitative"}, "y": {"field": "y", "type": "quantitative"}}},
   {"data": {"name": "ann"}, "transform": [{"filter": "datum.b=='MC'"}], "mark": {"type": "text", "align": "left", "baseline": "middle", "fontSize": 8.5, "color": "#111"},
    "encoding": {"x": {"field": "x", "type": "quantitative"}, "y": {"field": "y", "type": "quantitative"}, "text": {"field": "t"}}},
   {"data": {"name": "ann"}, "transform": [{"filter": "datum.b=='MC'"}], "mark": {"type": "text", "align": "right", "baseline": "middle", "dx": -11, "fontSize": 9.5, "fontStyle": "italic", "text": "h", "color": "#111"},
    "encoding": {"x": {"field": "x", "type": "quantitative"}, "y": {"field": "y", "type": "quantitative"}}},
   {"data": {"name": "ann"}, "transform": [{"filter": "datum.b=='MC'"}], "mark": {"type": "text", "align": "right", "baseline": "middle", "dx": -0.5, "dy": 3, "fontSize": 5.8, "text": "avg", "color": "#111"},
    "encoding": {"x": {"field": "x", "type": "quantitative"}, "y": {"field": "y", "type": "quantitative"}}},
   {"data": {"name": "ann"}, "transform": [{"filter": "datum.b=='MC'"}], "mark": {"type": "text", "align": "right", "baseline": "middle", "dx": -19.5, "fontSize": 8.5, "color": "#111"},
    "encoding": {"x": {"field": "x", "type": "quantitative"}, "y": {"field": "y", "type": "quantitative"}, "text": {"field": "p"}}},
   {"data": {"name": "box"}, "transform": [{"filter": "datum.b=='MC'"}], "mark": {"type": "point", "shape": "square", "size": 190, "filled": false, "stroke": "#333", "strokeWidth": 0.8, "opacity": 1},
    "encoding": {"x": {"field": "x", "type": "quantitative"}, "y": {"field": "y", "type": "quantitative"}}},
   {"data": {"name": "box"}, "transform": [{"filter": "datum.b=='MC'"}], "mark": {"type": "text", "align": "center", "baseline": "middle", "fontSize": 11, "color": "#111"},
    "encoding": {"x": {"field": "x", "type": "quantitative"}, "y": {"field": "y", "type": "quantitative"}, "text": {"field": "t"}}},
   {"data": {"name": "ttl"}, "transform": [{"filter": "datum.b=='MC'"}], "mark": {"type": "text", "align": "left", "baseline": "middle", "angle": 270, "fontSize": 11, "color": "#111"},
    "encoding": {"x": {"field": "x", "type": "quantitative"}, "y": {"field": "y", "type": "quantitative"}, "text": {"field": "t"}}},
   {"data": {"name": "avg"}, "transform": [{"filter": "datum.b=='MC'"}], "mark": {"type": "text", "align": "left", "baseline": "alphabetic", "fontSize": 7.5, "color": "#111"},
    "encoding": {"x": {"field": "x", "type": "quantitative"}, "y": {"field": "y", "type": "quantitative"}, "text": {"field": "t"}}}
  ]},
  {"data": {"name": "div"}, "transform": [{"filter": "datum.b=='MC'"}], "mark": {"type": "point", "opacity": 0},
   "encoding": {
    "x": {"field": "x", "type": "quantitative", "axis": {"orient": "top", "labels": false, "title": null, "tickCount": 21, "values": [0,5,10,15,20,25,30,35,40,45,50,55,60,65,70,75,80,85,90,95,100]}},
    "y": {"field": "y", "type": "quantitative", "axis": {"orient": "right", "labels": false, "title": null, "tickCount": 6, "values": [4.5,5,5.5,6,6.5,7]}}
   }}
 ]
}
]
}
